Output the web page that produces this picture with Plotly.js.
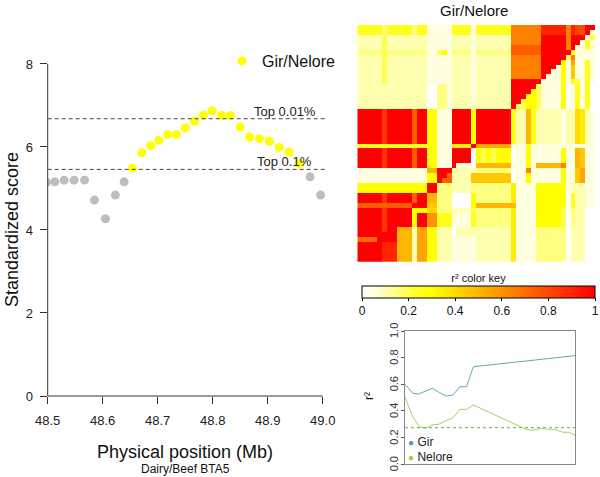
<!DOCTYPE html>
<html>
<head>
<meta charset="utf-8">
<script src="https://cdn.plot.ly/plotly-3.0.1.min.js"></script>
<style>
  html, body { margin: 0; padding: 0; background: #fff; }
  #chart { width: 600px; height: 477px; }
</style>
</head>
<body>
<div id="chart"></div>
<script>
// ---------- Left panel: standardized scores ----------
const grayPos   = [48.498, 48.513, 48.530, 48.548, 48.567, 48.585, 48.605, 48.623, 48.639, 48.977, 48.996];
const grayScore = [5.15, 5.16, 5.20, 5.20, 5.20, 4.72, 4.27, 4.84, 5.16, 5.28, 4.84];
const gnPos   = [48.654, 48.671, 48.687, 48.702, 48.718, 48.734, 48.750, 48.767, 48.783, 48.799,
                 48.816, 48.832, 48.850, 48.867, 48.885, 48.903, 48.921, 48.939, 48.957];
const gnScore = [5.49, 5.86, 6.03, 6.16, 6.30, 6.30, 6.46, 6.62, 6.77, 6.87,
                 6.76, 6.76, 6.48, 6.24, 6.20, 6.14, 5.99, 5.88, 5.60];
const thresholdValues = [6.68, 5.46];
const thresholdLabels = ['Top 0.01%', 'Top 0.1%'];
const xTicks = [48.5, 48.6, 48.7, 48.8, 48.9, 49.0];
const xTickText = ['48.5', '48.6', '48.7', '48.8', '48.9', '49.0'];
const yTicks = [0, 2, 4, 6, 8];

// ---------- Top right: LD heatmap, 48 x 48 SNPs, rows listed top to bottom ----------
// each letter is r2 in steps of 0.05: 'a' = 0, 'b' = 0.05, ... 'u' = 1 (spaces only separate SNP blocks)
const ldRows = [
  "fffff d fffff d ff bb bbb ffff b fffffff nnnnnn sssssnsqquu",
  "fffff d fffff d ff bb bbb ffff b fffffff nnnnnn sssssnsqqub",
  "ccccc e ccccc c cc bb bbb cccc b ccccccc nnnnnn uuuuunuuube",
  "ccccc e ccccc c cc bb bbb cccc b ccccccc nnnnnn uuuuunuubgb",
  "ccccc e ccccc c cc bb bbb cccc b ccccccc pppppp uuuuunubbec",
  "ddddd e ddddd d dd bb egb dddd b ddddddd pppppp uuuuuufbbbb",
  "ccccc e ccccc c cc bb bbb cccc b ccccccc nnnnnn uuuuuenbbbb",
  "ccccc e ccccc c cc bb bbb cccc b ccccccc nnnnnn uuuugblbbfb",
  "ccccc e ccccc c cc bb bbb cccc b ccccccc nnnnnn uuubgbjbbfb",
  "ccccc e ccccc c cc bb bbb cccc b ccccccc nnnnnn uubbgbjbbfb",
  "ccccc e ccccc c cc bb bbb cccc b ccccccc nnnnnn ubbbgbjbbfb",
  "ccccc e ccccc c cc bb bbb cccc b ccccccc uuuuuu bbbbgbfebfb",
  "ccccc c ccccc c cc aa ddb cccc b ccccccc uuuuue bbbbgabfbfa",
  "ccccc c ccccc c cc aa ddb cccc b ccccccc uuuuge bbbbgabfbfa",
  "ccccc c ccccc c cc aa ddb cccc b ccccccc uuugge bbbbgabfbfa",
  "ccccc c ccccc c cc aa ddb cccc b ccccccc uuegge bbbbgabfbfa",
  "ccccc c ccccc c cc aa ddb cccc b ccccccc ueegge bbbbgabfbfa",
  "uuuuu r uuuuu p uu gg bbb uuuu g uuuuuuu fcckfc ccccbccihcb",
  "uuuuu r uuuuu p uu gg bbb uuuu g uuuuuuu fcckfc ccccbccihcb",
  "uuuuu r uuuuu p uu gg bbb uuuu g uuuuuuu fcckfc ccccbccihcb",
  "uuuuu r uuuuu p uu gg bbb uuuu g uuuuuuu fcckfc ccccbccihcb",
  "uuuuu r uuuuu p uu gg bbb uuuu g uuuuuuu fcckfc ccccbccihcb",
  "uuuuu r uuuuu p uu gg bbb uuuu g uuuuuuu fcckfc ccccbccihcb",
  "uuuuu r uuuuu p uu gg bbb uuuu g uuuuuuu fcckfc ccccbccihcb",
  "fffff f fffff f ff gg bbb hhhh u lllllll bbbfbb bbbbbbbbbbb",
  "uuuuu r uuuuu p uu gg bbb uuuu a gegeggg abbgbb bbbbgbbkjbb",
  "uuuuu r uuuuu p uu gg bbb uuuu a gegeggg abbgbb bbbbgbbkjbb",
  "uuuuu r uuuuu p uu gg bbb uuuu a gegeggg abbgbb bbbbgbbkjbb",
  "uuuuu r uuuuu p uu gg bbb ubbb a kkkkkkk bbbgbk kkkknbbkjbb",
  "bbbbb b bbbbb b bb kk uuu cccc c ddddddd abbnbb bbbbgbbjlbb",
  "bbbbb b bbbbb b bb gg uup cccc j jjjjjjj abbgbb bbbbgbbjlbb",
  "bbbbb b bbbbb b bb gg upp cccc j jjjjjjj abbgbb bbbbgbbjlbb",
  "ggggg g ggggg g gg uu ddd cccc d ddddddd hbbbbg ggggfbcccbb",
  "ggggg g ggggg g gg uu ddd cccc d ddddddd hbbbbg ggggfbcccbb",
  "uuuuu r uuuuu p uu kk ddd aaaa g ddddddd hbbbbg gggggafccbb",
  "uuuuu r uuuuu p uu kk ddd aaaa g ddddddd hbbbbg gggggafccbb",
  "ppppp p ppppp u uu jj ddd aaaa g kkkkkkk kbbbbg ggggfafccbb",
  "uuuuu r uuuuu g gg ii ddd cccc e ddddddd hbbbbg ggggeaeccaa",
  "uuuuu r uuuuu g uu mm fff bbbb f ddddddd hbbbbg ggggeadccaa",
  "uuuuu r uuuuu g uu mm fff bbbb f ddddddd hbbbbg ggggeadccaa",
  "uuuuu r uuuuu g uu mm fff bbbb f ddddddd hbbbbg ggggeadccaa",
  "uuuuu r uukkk c ll gg ccc accc c ccccccc hbbbbd dddddacccaa",
  "uuuuu u uukkk c ll gg ccc accc c ccccccc hbbbbd dddddacccaa",
  "oooou u uukkk c ll gg ccc bbbb b ccccccc hbbbbd dddddacccaa",
  "uuuuu s sskkk c ll gg ccc bbbb b ccccccc hbbbbd dddddacccaa",
  "uuuuu s sskkk c ll gg ccc bbbb b ccccccc hbbbbd dddddacccaa",
  "uuuuu s sskkk c ll gg ccc bbbb b ccccccc hbbbbd dddddacccaa",
  "uuuuu s sskkk c ll gg ccc bbbb b ccccccc hbbbbd dddddacccaa"
];
const r2KeyTicks = [0, 0.2, 0.4, 0.6, 0.8, 1];
const r2KeyTickText = ['0', '0.2', '0.4', '0.6', '0.8', '1'];

// ---------- Bottom right: r2 decay lines ----------
const girX  = [0, 4.6, 7.9, 11.9, 16.2, 20.4, 24.4, 28.3, 32.3, 36.2, 40.2, 100];
const girR2 = [0.600, 0.533, 0.527, 0.545, 0.570, 0.537, 0.512, 0.520, 0.582, 0.582, 0.732, 0.815];
const neloreX  = [0, 4, 8.5, 11.9, 15.8, 19.8, 23.8, 28.3, 32.3, 36.2, 40.2, 71.3, 75.2, 80.2, 84.2, 88.1, 93.1, 96, 100];
const neloreR2 = [0.507, 0.370, 0.282, 0.270, 0.295, 0.300, 0.325, 0.350, 0.412, 0.412, 0.445,
                  0.262, 0.255, 0.270, 0.262, 0.262, 0.240, 0.240, 0.220];
const neloreBaseline = [0.275];
const r2Ticks = [0, 0.2, 0.4, 0.6, 0.8, 1.0];
const r2TickText = ['0.0', '0.2', '0.4', '0.6', '0.8', '1.0'];

// ---------- build ----------
const ldZ = ldRows.map(s => s.replace(/ /g, '').split('').map(ch => (ch.charCodeAt(0) - 97) / 20));
ldZ.forEach((r, i) => { if (r.length !== 48) console.warn('row', i, 'length', r.length); });

const FONT = 'Liberation Sans, Arial, Helvetica, sans-serif';
const heatScale = [
  [0, '#ffffff'], [0.05, '#ffffe0'], [0.1, '#ffffb0'], [0.15, '#ffff80'],
  [0.2, '#ffff4d'], [0.25, '#ffff1a'], [0.3, '#ffff00'], [1, '#ff0000']
];

const traces = [
  { type: 'scatter', mode: 'markers', x: grayPos, y: grayScore, xaxis: 'x', yaxis: 'y',
    marker: { color: '#bebebe', size: 9 }, showlegend: false },
  { type: 'scatter', mode: 'markers', x: gnPos, y: gnScore, xaxis: 'x', yaxis: 'y',
    name: 'Gir/Nelore', marker: { color: '#ffff00', size: 9 }, showlegend: true },
  { type: 'heatmap', z: ldZ, xaxis: 'x2', yaxis: 'y2', zmin: 0, zmax: 1,
    colorscale: heatScale, showscale: true,
    colorbar: {
      orientation: 'h', x: 478.5 / 600, xanchor: 'center', y: 0.4254, yanchor: 'top',
      len: 233, lenmode: 'pixels', thickness: 12, thicknessmode: 'pixels',
      outlinewidth: 1, outlinecolor: '#000', xpad: 0, ypad: 0,
      tickvals: r2KeyTicks, ticktext: r2KeyTickText, ticks: 'outside', ticklen: 3,
      ticklabeloverflow: 'allow',
      tickcolor: '#000', tickfont: { family: FONT, size: 12, color: '#111' },
      title: { text: 'r² color key', side: 'top', font: { family: FONT, size: 11, color: '#111' } }
    } },
  { type: 'scatter', mode: 'lines', x: girX, y: girR2, xaxis: 'x3', yaxis: 'y3',
    line: { color: '#62aab0', width: 1 }, showlegend: false, name: 'Gir' },
  { type: 'scatter', mode: 'lines', x: neloreX, y: neloreR2, xaxis: 'x3', yaxis: 'y3',
    line: { color: '#a8d060', width: 1 }, showlegend: false, name: 'Nelore' }
];

const shapes = [
  { type: 'line', xref: 'x domain', yref: 'y', x0: 0, x1: 0,
    y0: Math.min(...yTicks), y1: Math.max(...yTicks), line: { color: '#333', width: 1 } },
  { type: 'line', xref: 'x', yref: 'y domain', y0: 0, y1: 0,
    x0: Math.min(...xTicks), x1: Math.max(...xTicks), line: { color: '#333', width: 1 } },
  { type: 'line', xref: 'x3 domain', yref: 'y3', x0: 0, x1: 1,
    y0: neloreBaseline[0], y1: neloreBaseline[0], line: { color: '#7dc060', width: 1.3, dash: 'dot' } }
];
thresholdValues.forEach(v => shapes.push({
  type: 'line', xref: 'x domain', yref: 'y', x0: 0, x1: 1, y0: v, y1: v,
  line: { color: '#444', width: 1, dash: '4px,3px' }
}));

const annotations = [];
thresholdValues.forEach((v, i) => annotations.push({
  xref: 'x', yref: 'y', x: 48.931, y: v, text: thresholdLabels[i], showarrow: false,
  yanchor: 'bottom', xanchor: 'center', yshift: -2,
  font: { family: FONT, size: 13, color: '#222' }
}));
// rotated r2 tick labels of the bottom-right panel (R style, placed beside the ticks)
r2Ticks.forEach((v, i) => annotations.push({
  xref: 'paper', yref: 'y3', x: 394 / 600, y: v, text: r2TickText[i], textangle: -90,
  showarrow: false, xanchor: 'center', yanchor: 'middle',
  font: { family: FONT, size: 11, color: '#333' }
}));
annotations.push(
  { xref: 'paper', yref: 'paper', x: 12 / 600, y: 1 - 230 / 477, text: 'Standardized score',
    textangle: -90, showarrow: false, xanchor: 'center', yanchor: 'middle',
    font: { family: FONT, size: 18, color: '#111' } },
  { xref: 'paper', yref: 'paper', x: 185 / 600, y: 1 - 452 / 477, text: 'Physical position (Mb)',
    showarrow: false, xanchor: 'center', yanchor: 'middle',
    font: { family: FONT, size: 18, color: '#111' } },
  { xref: 'paper', yref: 'paper', x: 185 / 600, y: 1 - 469 / 477, text: 'Dairy/Beef BTA5',
    showarrow: false, xanchor: 'center', yanchor: 'middle',
    font: { family: FONT, size: 12, color: '#111' } },
  { xref: 'paper', yref: 'paper', x: 474 / 600, y: 1 - 10 / 477, text: 'Gir/Nelore',
    showarrow: false, xanchor: 'center', yanchor: 'middle',
    font: { family: FONT, size: 15, color: '#111' } },
  { xref: 'paper', yref: 'paper', x: 369 / 600, y: 1 - 396 / 477, text: 'r²',
    textangle: -90, showarrow: false, xanchor: 'center', yanchor: 'middle',
    font: { family: FONT, size: 12, color: '#111' } },
  { xref: 'paper', yref: 'paper', x: 406 / 600, y: 1 - 442 / 477,
    text: '<span style="color:#4f9ea8;font-size:10px">●</span> Gir',
    showarrow: false, xanchor: 'left', yanchor: 'middle',
    font: { family: FONT, size: 12, color: '#222' } },
  { xref: 'paper', yref: 'paper', x: 406 / 600, y: 1 - 457 / 477,
    text: '<span style="color:#9acd40;font-size:10px">●</span> Nelore',
    showarrow: false, xanchor: 'left', yanchor: 'middle',
    font: { family: FONT, size: 12, color: '#222' } }
);

const layout = {
  width: 600, height: 477,
  margin: { l: 0, r: 0, t: 0, b: 0, pad: 0 },
  paper_bgcolor: '#fff', plot_bgcolor: 'rgba(0,0,0,0)',
  font: { family: FONT, color: '#222' },
  showlegend: true,
  legend: { x: 222 / 600, y: 1 - 44 / 477, xanchor: 'left', yanchor: 'top',
            bgcolor: 'rgba(0,0,0,0)', font: { family: FONT, size: 16, color: '#111' } },
  xaxis: { domain: [47.7 / 600, 327 / 600], range: [48.5, 49.0078], tickvals: xTicks, ticktext: xTickText,
           ticks: 'outside', ticklen: 7, tickcolor: '#333', showgrid: false, zeroline: false, showline: false,
           ticklabelstandoff: 5,
           tickfont: { family: FONT, size: 13, color: '#222' }, anchor: 'y' },
  yaxis: { domain: [1 - 396 / 477, 1 - 10 / 477], range: [0, 9.30], tickvals: yTicks,
           ticks: 'outside', ticklen: 7, tickcolor: '#333', showgrid: false, zeroline: false, showline: false,
           ticklabelstandoff: 4,
           tickfont: { family: FONT, size: 13, color: '#222' }, anchor: 'x' },
  xaxis2: { domain: [357.3 / 600, 595 / 600], visible: false, anchor: 'y2' },
  yaxis2: { domain: [1 - 261.7 / 477, 1 - 25 / 477], visible: false, autorange: 'reversed', anchor: 'x2' },
  xaxis3: { domain: [405 / 600, 575 / 600], range: [0, 100], showticklabels: false, ticks: '',
            showgrid: false, zeroline: false, showline: true, mirror: true, linecolor: '#888', linewidth: 1, anchor: 'y3' },
  yaxis3: { domain: [1 - 464.3 / 477, 1 - 331 / 477], range: [0, 1], tickvals: r2Ticks,
            showticklabels: false, ticks: 'outside', ticklen: 3, tickcolor: '#555', showgrid: false, zeroline: false,
            showline: true, mirror: true, linecolor: '#888', linewidth: 1, anchor: 'x3' },
  shapes: shapes,
  annotations: annotations
};

Plotly.newPlot('chart', traces, layout, { staticPlot: true, displayModeBar: false });
</script>
</body>
</html>
